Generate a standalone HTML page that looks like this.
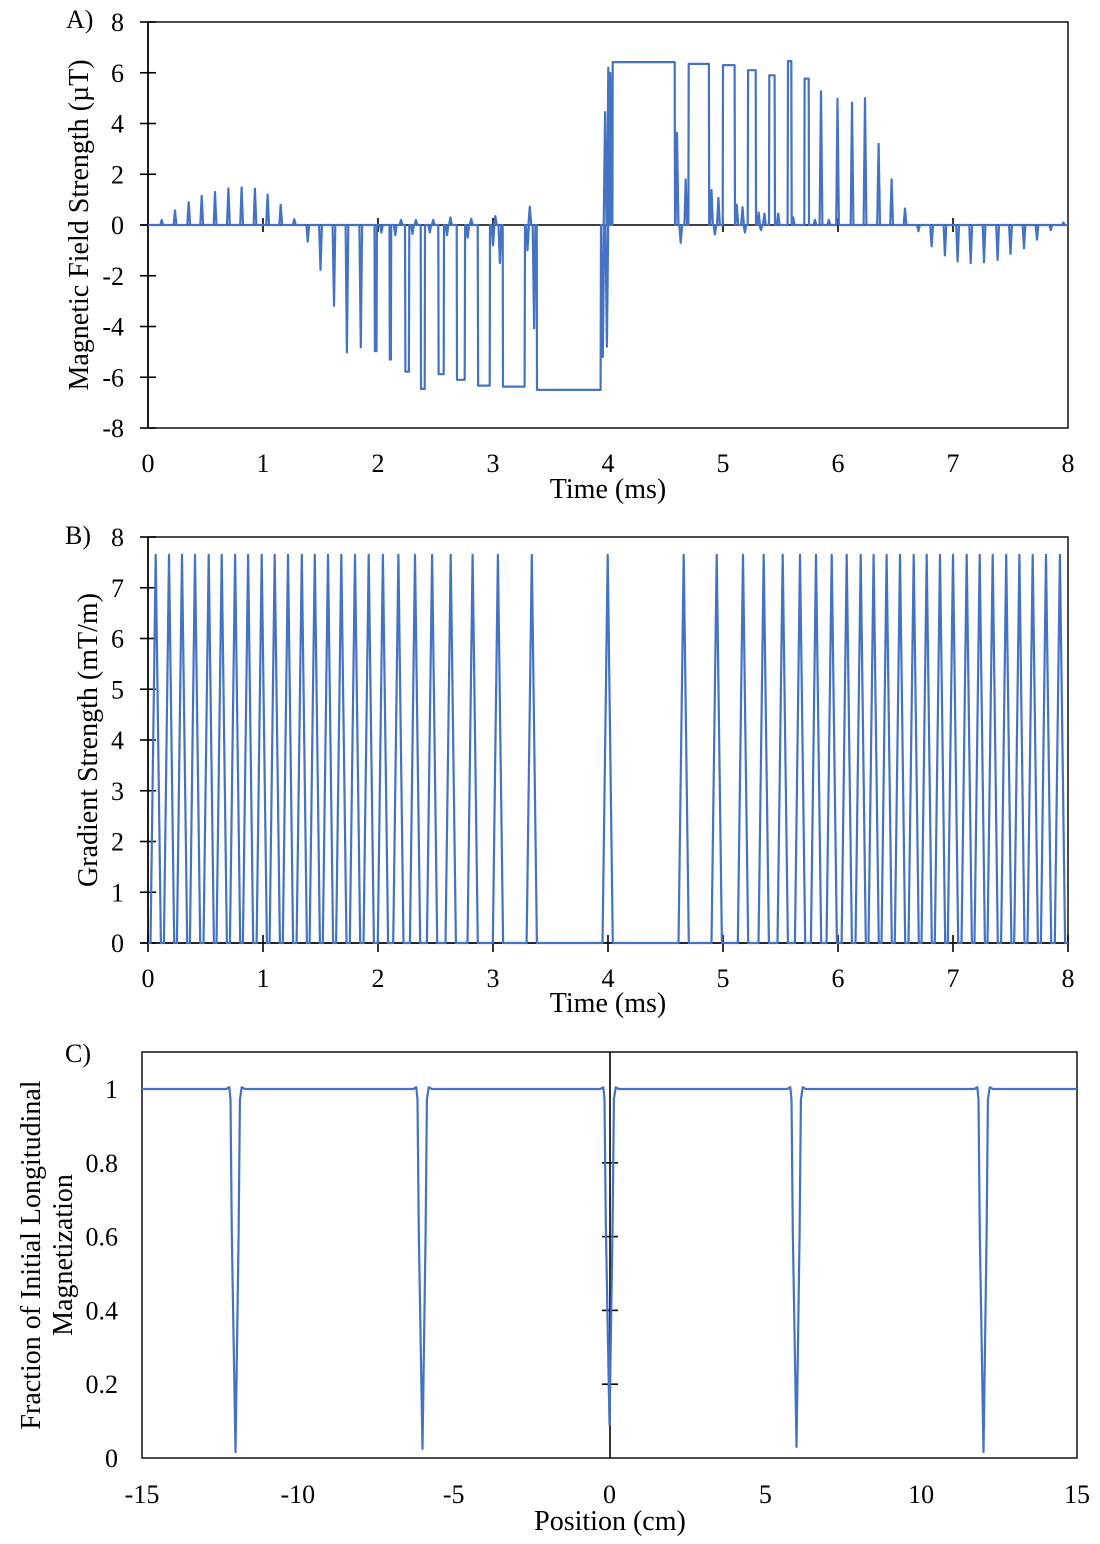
<!DOCTYPE html>
<html><head><meta charset="utf-8"><style>
body{margin:0;background:#fff}
svg{display:block}
text{font-family:"Liberation Serif",serif;fill:#000}
.t{font-size:26px}
.ti{font-size:28px}
</style></head><body>
<svg id="chart" width="1100" height="1544" viewBox="0 0 1100 1544"></svg>
<script>
// ---- Panel A data (ms, µT) ----
const spikeTimesA=[0.119,0.235,0.354,0.467,0.583,0.699,0.814,0.930,1.04,1.154,1.272,
1.389,1.5,1.617,1.73,1.85,2.03,2.15,2.2,2.3,2.33,2.45,2.48,2.6,2.63,2.78,2.81,3.0,3.02,3.06,3.3,3.32,3.357,
3.955,3.975,3.99,4.003,4.02,
4.6,4.632,4.676,4.9,4.93,4.96,5.12,5.17,5.19,5.31,5.33,5.36,5.48,5.61,5.8,5.852,5.92,5.996,6.122,6.235,6.353,6.466,6.583,
6.699,6.814,6.93,7.04,7.154,7.27,7.388,7.5,7.617,7.73,7.85,7.96];
const spikeAmpsA=[0.2,0.57,0.9,1.15,1.3,1.44,1.48,1.43,1.2,0.8,0.23,
-0.66,-1.77,-3.19,-5.02,-4.82,-0.3,-0.4,0.2,-0.35,0.2,-0.3,0.2,-0.4,0.3,-0.5,0.25,-0.8,0.35,-1.5,-1.0,0.72,-4.07,
-5.2,4.45,-4.8,6.2,6.0,
3.63,-0.7,1.8,1.38,-0.37,1.07,0.8,0.7,-0.3,0.5,-0.2,0.45,0.45,0.3,0.2,5.27,0.2,4.97,4.82,5.0,3.2,1.8,0.65,
-0.25,-0.84,-1.2,-1.44,-1.5,-1.47,-1.38,-1.14,-0.92,-0.58,-0.2,0.1];
const pulseStartsA=[1.97,2.10,2.235,2.371,2.524,2.684,2.867,3.084,3.38,4.038,4.699,4.997,5.215,5.4,5.562,5.707];
const pulseEndsA=[1.99,2.115,2.272,2.409,2.574,2.757,2.974,3.278,3.939,4.583,4.88,5.104,5.287,5.452,5.597,5.748];
const pulseAmpsA=[-4.97,-5.3,-5.78,-6.46,-5.88,-6.1,-6.33,-6.37,-6.5,6.42,6.35,6.3,6.1,5.9,6.46,5.77];
const yTicksA=[8,6,4,2,0,-2,-4,-6,-8];
const xTicksAB=[0,1,2,3,4,5,6,7,8];
// ---- Panel B data (ms) ----
const peakTimesB=[0.067,0.183,0.296,0.409,0.528,0.641,0.757,0.870,0.989,1.102,1.217,1.337,1.450,1.565,1.681,1.8,1.919,2.043,2.177,2.322,2.470,2.632,2.823,3.043,3.337,3.997,4.658,4.945,5.174,5.354,5.519,5.670,5.809,5.945,6.076,6.197,6.310,6.423,6.539,6.658,6.771,6.887,7.0,7.119,7.232,7.345,7.463,7.577,7.693,7.809,7.930];
const peakAmpsB=[7.65,7.65,7.65,7.65,7.65,7.65,7.65,7.65,7.65,7.65,7.65,7.65,7.65,7.65,7.65,7.65,7.65,7.65,7.65,7.65,7.65,7.65,7.65,7.65,7.65,7.65,7.65,7.65,7.65,7.65,7.65,7.65,7.65,7.65,7.65,7.65,7.65,7.65,7.65,7.65,7.65,7.65,7.65,7.65,7.65,7.65,7.65,7.65,7.65,7.65,7.65];
const yTicksB=[8,7,6,5,4,3,2,1,0];
// ---- Panel C data (cm) ----
const dipCentersC=[-12,-6,0,6,12];
const dipMinsC=[0.016,0.025,0.09,0.03,0.016];
const dipShapeOffsets=[-0.3,-0.2,-0.16,-0.12,0,0.1,0.14,0.2,0.3];
const dipShapeFrac=[0,-0.005,0.03,0.4,1,0.4,0.03,-0.005,0];
const yTicksC=[1,0.8,0.6,0.4,0.2,0];
const xTicksC=[-15,-10,-5,0,5,10,15];

const svg=document.getElementById('chart');
const NS='http://www.w3.org/2000/svg';
function mk(tag,attrs,parent){const e=document.createElementNS(NS,tag);for(const k in attrs)e.setAttribute(k,attrs[k]);(parent||svg).appendChild(e);return e;}
function line(x1,y1,x2,y2,name){const l=mk('line',{x1,y1,x2,y2,stroke:'#000','stroke-width':1.6});

return l;}
function txt(x,y,s,anchor,name,extra,cls){const t=mk('text',Object.assign({x,y,'text-anchor':anchor,class:cls||'t'},extra||{}));t.textContent=s;

return t;}
function box(x0,y0,x1,y1,name){const r=mk('rect',{x:x0,y:y0,width:x1-x0,height:y1-y0,fill:'none',stroke:'#000','stroke-width':1.4});

}
function path(pts,name){const p=mk('path',{d:'M'+pts.map(q=>q[0].toFixed(1)+','+q[1].toFixed(1)).join('L'),fill:'none',stroke:'#4472c4','stroke-width':2.2,'stroke-linejoin':'round'});

}

// ===== Panel A =====
const xA=t=>148+t*115, yA=v=>225-v*25.375;
box(148,22,1068,428,'panel-a-plot-frame');
let evA=[];
spikeTimesA.forEach((t,i)=>evA.push({s:t-0.012,pts:[[t-0.012,0],[t,spikeAmpsA[i]],[t+0.012,0]]}));
pulseStartsA.forEach((s,i)=>{const e=pulseEndsA[i],a=pulseAmpsA[i];evA.push({s:s,pts:[[s,0],[s+0.003,a],[e-0.003,a],[e,0]]});});
evA.sort((a,b)=>a.s-b.s);
let ptsA=[[0,0]];evA.forEach(e=>ptsA.push(...e.pts));ptsA.push([8,0]);
line(140,225,1068,225,'panel-a-x-axis');
line(148,22,148,428,'panel-a-y-axis');
xTicksAB.forEach(v=>{if(v>0&&v<8)line(xA(v),218,xA(v),232,'panel-a-x-tick');txt(xA(v),472,String(v),'middle','panel-a-x-tick-label');});
yTicksA.forEach(v=>{line(140,yA(v),156,yA(v),'panel-a-y-tick');txt(124,yA(v)+9,String(v),'end','panel-a-y-tick-label');});
path(ptsA.map(p=>[xA(p[0]),yA(p[1])]),'magnetic-field-line');
txt(608,498,'Time (ms)','middle','panel-a-x-axis-title',null,'ti');
txt(88,225,'Magnetic Field Strength (µT)','middle','panel-a-y-axis-title',{transform:'rotate(-90 88 225)'},'ti');
txt(66,28,'A)','start','panel-a-label');

// ===== Panel B =====
const xB=t=>148+t*115, yB=v=>943-v*50.75;
box(148,537,1068,943,'panel-b-plot-frame');
line(140,943,1068,943,'panel-b-x-axis');
line(148,537,148,943,'panel-b-y-axis');
xTicksAB.forEach(v=>{line(xB(v),935,xB(v),952,'panel-b-x-tick');txt(xB(v),987,String(v),'middle','panel-b-x-tick-label');});
yTicksB.forEach(v=>{line(140,yB(v),156,yB(v),'panel-b-y-tick');txt(124,yB(v)+9,String(v),'end','panel-b-y-tick-label');});
let ptsB=[[0,0]];
peakTimesB.forEach((t,i)=>{ptsB.push([t-0.045,0],[t,peakAmpsB[i]],[t+0.045,0]);});
ptsB.push([8,0]);
path(ptsB.map(p=>[xB(p[0]),yB(p[1])]),'gradient-strength-line');
txt(608,1012,'Time (ms)','middle','panel-b-x-axis-title',null,'ti');
txt(97,740,'Gradient Strength (mT/m)','middle','panel-b-y-axis-title',{transform:'rotate(-90 97 740)'},'ti');
txt(65,544,'B)','start','panel-b-label');

// ===== Panel C =====
const xC=p=>142+(p+15)*31.167, yC=v=>1458-v*369;
box(142,1052,1077,1458,'panel-c-plot-frame');
line(610,1052,610,1458,'panel-c-y-axis');
yTicksC.forEach(v=>{if(v<1&&v>0)line(602,yC(v),618,yC(v),'panel-c-y-tick');txt(118,yC(v)+9,String(v),'end','panel-c-y-tick-label');});
xTicksC.forEach(v=>txt(xC(v),1503,String(v),'middle','panel-c-x-tick-label'));
let ptsC=[[-15,1]];
dipCentersC.forEach((c,i)=>{dipShapeOffsets.forEach((o,j)=>ptsC.push([c+o,1-dipShapeFrac[j]*(1-dipMinsC[i])]));});
ptsC.push([15,1]);
path(ptsC.map(p=>[xC(p[0]),yC(p[1])]),'magnetization-line');
txt(610,1530,'Position (cm)','middle','panel-c-x-axis-title',null,'ti');
txt(40,1255,'Fraction of Initial Longitudinal','middle','panel-c-y-axis-title-line1',{transform:'rotate(-90 40 1255)'},'ti');
txt(72,1255,'Magnetization','middle','panel-c-y-axis-title-line2',{transform:'rotate(-90 72 1255)'},'ti');
txt(65,1062,'C)','start','panel-c-label');
</script>
</body></html>
